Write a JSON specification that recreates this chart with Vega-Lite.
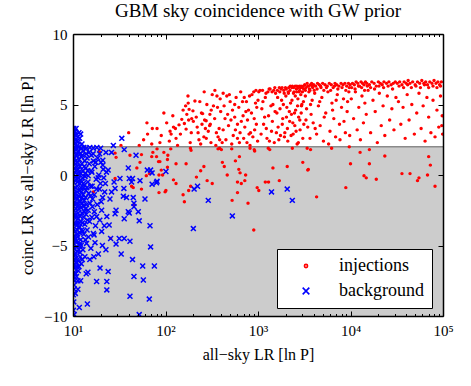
{
"$schema": "https://vega.github.io/schema/vega-lite/v6.json",
"width": 370, "height": 282,
"autosize": {"type": "none"},
"padding": {"left": 73, "top": 34, "right": 28, "bottom": 70},
"background": "white",
"title": {"text": "GBM sky coincidence with GW prior", "font": "Liberation Serif", "fontSize": 19, "fontWeight": "normal", "color": "black", "offset": 6},
"config": {"view": {"stroke": null}, "font": "Liberation Serif",
 "legend": {"labelFont": "Liberation Serif", "labelFontSize": 18, "labelColor": "black", "labelOffset": 24, "symbolOffset": 12, "rowPadding": 7, "symbolStrokeWidth": 1.6, "symbolSize": 10, "symbolFillColor": "#ff0000", "padding": 8, "cornerRadius": 0, "fillColor": "white", "strokeColor": "black"}},
"datasets": {
"band": [{"x1": 10, "x2": 100000, "y1": -10, "y2": 2}],
"inj": [
{"x":33,"y":2.1},{"x":40,"y":3.0},{"x":52,"y":2.1},{"x":58,"y":2.5},
{"x":63,"y":3.7},{"x":64,"y":2.9},{"x":72,"y":3.3},{"x":71,"y":2.2},{"x":81,"y":3.3},{"x":87,"y":2.3},{"x":90,"y":2.8},{"x":96,"y":4.4},
{"x":103,"y":3.7},{"x":112,"y":3.1},{"x":115,"y":2.9},{"x":110,"y":2.4},{"x":120,"y":4.2},{"x":122,"y":3.4},{"x":128,"y":3.3},{"x":130,"y":2.6},{"x":135,"y":2.1},{"x":140,"y":3.55},{"x":145,"y":2.9},{"x":150,"y":3.95},{"x":155,"y":4.6},{"x":160,"y":3.65},{"x":165,"y":4.9},{"x":167,"y":3.25},{"x":170,"y":4.3},{"x":175,"y":5.6},{"x":176,"y":5.1},{"x":178,"y":3.9},{"x":180,"y":4.65},{"x":185,"y":2.3},{"x":190,"y":3.0},{"x":192,"y":4.0},{"x":198,"y":4.55},{"x":200,"y":3.8},
{"x":208,"y":5.25},{"x":215,"y":4.1},{"x":220,"y":3.4},{"x":225,"y":3.0},{"x":230,"y":2.5},{"x":235,"y":5.2},{"x":240,"y":2.2},{"x":245,"y":4.4},{"x":248,"y":3.6},{"x":252,"y":4.35},{"x":260,"y":2.7},{"x":262,"y":5.9},{"x":265,"y":3.9},{"x":270,"y":3.3},{"x":275,"y":3.85},{"x":276,"y":2.6},{"x":280,"y":5.0},{"x":290,"y":3.1},{"x":300,"y":3.5},{"x":302,"y":4.3},{"x":305,"y":3.6},{"x":310,"y":2.3},{"x":312,"y":4.6},{"x":320,"y":5.7},{"x":330,"y":4.9},{"x":340,"y":4.0},{"x":342,"y":6.0},{"x":350,"y":2.1},{"x":355,"y":3.0},{"x":360,"y":5.6},{"x":365,"y":4.8},{"x":370,"y":2.7},{"x":380,"y":3.3},{"x":385,"y":2.5},{"x":390,"y":5.4},{"x":395,"y":4.5},
{"x":420,"y":5.8},{"x":460,"y":5.6},{"x":500,"y":5.2},{"x":530,"y":4.6},{"x":560,"y":4.1},{"x":600,"y":3.6},{"x":640,"y":3.0},{"x":700,"y":2.6},{"x":760,"y":2.3},{"x":820,"y":2.1},{"x":420,"y":3.2},{"x":450,"y":2.5},{"x":470,"y":4.3},{"x":510,"y":3.9},{"x":540,"y":2.8},{"x":580,"y":5.5},{"x":620,"y":4.8},{"x":650,"y":5.9},{"x":690,"y":4.2},{"x":720,"y":3.4},{"x":750,"y":5.2},{"x":790,"y":4.6},{"x":830,"y":3.0},{"x":860,"y":5.7},{"x":880,"y":2.7},{"x":910,"y":4.0},{"x":940,"y":5.1},{"x":960,"y":3.6},{"x":990,"y":2.4},{"x":430,"y":4.9},{"x":480,"y":3.5},{"x":520,"y":2.2},{"x":560,"y":5.0},{"x":600,"y":2.6},{"x":660,"y":3.8},{"x":710,"y":5.5},{"x":770,"y":3.9},{"x":800,"y":2.9},{"x":850,"y":4.4},{"x":900,"y":5.9},{"x":970,"y":4.8},{"x":410,"y":2.3},{"x":440,"y":4.0},{"x":490,"y":5.7},{"x":570,"y":3.2},{"x":630,"y":2.3},{"x":680,"y":5.2},{"x":740,"y":4.5},{"x":810,"y":5.6},{"x":920,"y":3.2},{"x":950,"y":6.0},{"x":1000,"y":5.3},
{"x":1050,"y":6.0},{"x":1100,"y":4.7},{"x":1150,"y":3.6},{"x":1200,"y":5.5},{"x":1250,"y":2.6},{"x":1300,"y":4.2},{"x":1350,"y":6.1},{"x":1400,"y":3.1},{"x":1450,"y":5.0},{"x":1500,"y":2.3},{"x":1550,"y":5.8},{"x":1600,"y":4.4},{"x":1650,"y":3.4},{"x":1700,"y":6.2},{"x":1750,"y":2.8},{"x":1800,"y":5.3},{"x":1850,"y":4.0},{"x":1900,"y":6.0},{"x":1950,"y":3.0},{"x":2000,"y":5.6},{"x":2050,"y":4.8},{"x":2100,"y":2.4},{"x":2150,"y":6.2},{"x":2200,"y":3.8},{"x":2250,"y":5.1},{"x":2300,"y":4.3},{"x":2350,"y":6.3},{"x":2400,"y":2.9},{"x":2450,"y":5.9},{"x":2500,"y":3.5},{"x":2550,"y":4.6},{"x":2600,"y":6.1},{"x":2650,"y":2.2},{"x":2700,"y":5.4},{"x":2750,"y":4.1},{"x":2800,"y":6.3},{"x":2850,"y":3.2},{"x":2900,"y":5.7},{"x":2950,"y":4.9},{"x":3000,"y":6.2},{"x":3050,"y":2.6},{"x":3100,"y":5.2},
{"x":1080,"y":2.9},{"x":1130,"y":5.2},{"x":1180,"y":4.1},{"x":1230,"y":3.3},{"x":1280,"y":5.9},{"x":1330,"y":2.4},{"x":1380,"y":4.9},{"x":1430,"y":3.8},{"x":1480,"y":6.0},{"x":1530,"y":4.5},{"x":1580,"y":3.0},{"x":1630,"y":5.5},{"x":1680,"y":2.5},{"x":1730,"y":4.7},{"x":1780,"y":6.1},{"x":1830,"y":3.6},{"x":1880,"y":5.0},{"x":1930,"y":2.7},{"x":1980,"y":6.2},{"x":2030,"y":4.1},{"x":2080,"y":3.3},{"x":2130,"y":5.8},{"x":2180,"y":4.5},{"x":2230,"y":6.3},{"x":2280,"y":2.8},{"x":2330,"y":5.3},{"x":2380,"y":3.7},{"x":2430,"y":6.2},{"x":2480,"y":4.4},{"x":2530,"y":5.6},{"x":2580,"y":3.1},{"x":2630,"y":6.3},{"x":2680,"y":4.9},{"x":2730,"y":2.3},{"x":2780,"y":5.9},{"x":2830,"y":3.9},{"x":2880,"y":6.2},{"x":2930,"y":4.4},{"x":2980,"y":5.0},{"x":3080,"y":6.3},{"x":3130,"y":3.6},
{"x":1020,"y":5.9},{"x":1120,"y":6.0},{"x":1220,"y":5.8},{"x":1320,"y":6.1},{"x":1420,"y":5.9},{"x":1520,"y":6.2},{"x":1620,"y":6.0},{"x":1720,"y":5.9},{"x":1820,"y":6.2},{"x":1920,"y":5.8},{"x":2020,"y":6.1},{"x":2120,"y":5.9},{"x":2220,"y":6.0},{"x":2320,"y":6.2},{"x":2420,"y":5.8},{"x":2520,"y":6.3},{"x":2620,"y":5.9},{"x":2720,"y":6.2},{"x":2820,"y":6.0},{"x":2920,"y":6.3},{"x":3020,"y":5.9},{"x":3120,"y":6.1},
{"x":3200,"y":6.4},{"x":3300,"y":6.2},{"x":3400,"y":6.5},{"x":3500,"y":6.3},{"x":3600,"y":6.1},{"x":3700,"y":6.4},{"x":3800,"y":6.5},{"x":3900,"y":6.2},{"x":4000,"y":6.4},{"x":4200,"y":6.3},{"x":4400,"y":6.5},{"x":4600,"y":6.4},{"x":4800,"y":6.2},{"x":5000,"y":6.5},{"x":5300,"y":6.4},{"x":5600,"y":6.3},{"x":5900,"y":6.5},{"x":6200,"y":6.4},{"x":6500,"y":6.2},{"x":6800,"y":6.5},{"x":7100,"y":6.4},{"x":7500,"y":6.3},{"x":7900,"y":6.5},{"x":8300,"y":6.4},{"x":8700,"y":6.5},{"x":9100,"y":6.3},{"x":9500,"y":6.5},{"x":9900,"y":6.4},
{"x":3250,"y":5.6},{"x":3350,"y":4.7},{"x":3450,"y":3.4},{"x":3550,"y":5.9},{"x":3650,"y":2.6},{"x":3750,"y":4.3},{"x":3850,"y":5.3},{"x":3950,"y":3.7},{"x":4100,"y":5.8},{"x":4300,"y":2.9},{"x":4500,"y":4.9},{"x":4700,"y":3.5},{"x":4900,"y":5.5},{"x":5100,"y":2.4},{"x":5400,"y":4.4},{"x":5700,"y":5.9},{"x":6000,"y":3.1},{"x":6300,"y":5.1},{"x":6600,"y":4.0},{"x":6900,"y":2.7},{"x":7200,"y":5.7},{"x":7600,"y":3.6},{"x":8000,"y":4.8},{"x":8400,"y":5.4},{"x":8800,"y":3.0},{"x":9200,"y":4.5},{"x":9600,"y":5.9},{"x":3300,"y":3.9},{"x":3700,"y":5.0},{"x":4150,"y":3.3},{"x":4650,"y":5.2},{"x":5200,"y":4.1},{"x":5800,"y":2.2},{"x":6400,"y":4.6},{"x":7000,"y":5.3},{"x":7700,"y":2.5},{"x":8500,"y":3.8},{"x":9300,"y":5.2},{"x":9800,"y":2.8},
{"x":3250,"y":6.0},{"x":3450,"y":6.3},{"x":3650,"y":6.0},{"x":3850,"y":6.3},{"x":4050,"y":6.0},{"x":4350,"y":6.1},{"x":4750,"y":6.3},{"x":5150,"y":6.0},{"x":5500,"y":6.2},{"x":6100,"y":6.0},{"x":6700,"y":6.3},{"x":7300,"y":6.1},{"x":8100,"y":6.2},{"x":8900,"y":6.0},{"x":9700,"y":6.2},
{"x":10500,"y":6.5},{"x":11000,"y":6.4},{"x":11500,"y":6.6},{"x":12000,"y":6.5},{"x":12500,"y":6.3},{"x":13000,"y":6.6},{"x":13500,"y":6.5},{"x":14000,"y":6.4},{"x":14500,"y":6.6},{"x":15000,"y":6.5},{"x":16000,"y":6.4},{"x":17000,"y":6.6},{"x":18000,"y":6.5},{"x":19000,"y":6.3},{"x":20000,"y":6.6},{"x":21000,"y":6.5},{"x":22000,"y":6.4},{"x":23000,"y":6.6},{"x":24500,"y":6.5},{"x":26000,"y":6.6},{"x":27500,"y":6.4},{"x":29000,"y":6.5},{"x":30500,"y":6.6},
{"x":10200,"y":5.4},{"x":10800,"y":4.0},{"x":11300,"y":5.9},{"x":11800,"y":3.2},{"x":12300,"y":4.8},{"x":12800,"y":2.5},{"x":13300,"y":5.6},{"x":13800,"y":3.7},{"x":14300,"y":5.1},{"x":14800,"y":4.3},{"x":15500,"y":6.0},{"x":16500,"y":3.0},{"x":17500,"y":5.3},{"x":18500,"y":4.5},{"x":19500,"y":2.3},{"x":20500,"y":5.8},{"x":21500,"y":3.5},{"x":22500,"y":4.9},{"x":23500,"y":2.8},{"x":25000,"y":5.6},{"x":26500,"y":3.9},{"x":28000,"y":4.7},{"x":29500,"y":3.2},{"x":31000,"y":5.5},
{"x":10300,"y":6.2},{"x":11200,"y":6.1},{"x":12200,"y":6.3},{"x":13200,"y":6.2},{"x":14200,"y":6.0},{"x":15200,"y":6.3},{"x":16500,"y":6.2},{"x":18200,"y":6.1},{"x":20300,"y":6.3},{"x":22800,"y":6.2},{"x":25500,"y":6.3},{"x":28500,"y":6.1},
{"x":32000,"y":6.5},{"x":34000,"y":6.6},{"x":36000,"y":6.4},{"x":38000,"y":6.6},{"x":40000,"y":6.5},{"x":42000,"y":6.7},{"x":44000,"y":6.5},{"x":47000,"y":6.6},{"x":50000,"y":6.4},{"x":53000,"y":6.6},{"x":56000,"y":6.5},{"x":59000,"y":6.7},{"x":62000,"y":6.5},{"x":65000,"y":6.6},{"x":68000,"y":6.4},{"x":72000,"y":6.6},{"x":76000,"y":6.5},{"x":80000,"y":6.7},{"x":84000,"y":6.5},{"x":88000,"y":6.6},{"x":92000,"y":6.4},{"x":96000,"y":6.6},
{"x":33000,"y":5.2},{"x":35000,"y":3.6},{"x":37000,"y":4.8},{"x":39000,"y":2.6},{"x":41000,"y":5.7},{"x":43000,"y":3.9},{"x":46000,"y":5.0},{"x":49000,"y":2.9},{"x":52000,"y":4.4},{"x":55000,"y":5.8},{"x":58000,"y":3.3},{"x":61000,"y":4.9},{"x":64000,"y":2.4},{"x":67000,"y":5.5},{"x":70000,"y":4.1},{"x":74000,"y":3.0},{"x":78000,"y":5.3},{"x":82000,"y":2.7},{"x":86000,"y":4.6},{"x":90000,"y":3.4},{"x":94000,"y":5.6},{"x":98000,"y":4.2},{"x":97000,"y":3.5},{"x":99000,"y":2.9},
{"x":33500,"y":6.3},{"x":37500,"y":6.2},{"x":41500,"y":6.4},{"x":45500,"y":6.2},{"x":51000,"y":6.3},{"x":57000,"y":6.2},{"x":63000,"y":6.4},{"x":70000,"y":6.2},{"x":78000,"y":6.3},{"x":86000,"y":6.2},{"x":94000,"y":6.3},
{"x":19.3,"y":1.65},{"x":28.5,"y":1.55},{"x":29.2,"y":1.25},{"x":41.3,"y":1.4},{"x":55,"y":1.45},{"x":73,"y":1.6},{"x":80,"y":1.3},{"x":96,"y":1.6},{"x":105,"y":1.1},{"x":87,"y":0.95},{"x":53,"y":0.9},{"x":49,"y":0.5},{"x":67,"y":0.1},{"x":105,"y":0.55},{"x":122,"y":-0.35},{"x":130,"y":-0.6},{"x":28.5,"y":-0.25},{"x":44.8,"y":-0.9},{"x":16.6,"y":-1.2},{"x":85,"y":-1.25},{"x":99,"y":-1.2},{"x":25.5,"y":-4.5},{"x":45.6,"y":-2.1},{"x":43,"y":-0.8},{"x":55,"y":-1.0},{"x":155,"y":-1.4},{"x":178,"y":-1.1},{"x":187,"y":-0.8},{"x":216,"y":-0.15},{"x":282,"y":-0.4},{"x":320,"y":-0.6},{"x":62,"y":-0.05},{"x":85,"y":0.0},{"x":93,"y":0.0},{"x":260,"y":0.6},{"x":412,"y":0.9},{"x":432,"y":0.6},{"x":465,"y":0},{"x":570,"y":1.0},{"x":630,"y":1.3},{"x":620,"y":0.4},{"x":640,"y":0.15},{"x":735,"y":0},{"x":720,"y":-0.4},{"x":600,"y":-0.5},{"x":600,"y":-1.25},{"x":525,"y":-1.8},{"x":780,"y":-2.0},{"x":900,"y":-3.9},{"x":980,"y":-0.9},{"x":1020,"y":-1.1},{"x":1200,"y":-0.5},{"x":1300,"y":-0.5},{"x":1450,"y":0.5},{"x":1700,"y":-0.4},{"x":2070,"y":0.6},{"x":3050,"y":0.9},{"x":3500,"y":0.4},{"x":4300,"y":-1.55},{"x":8900,"y":-0.9},{"x":10000,"y":0.8},{"x":12700,"y":1.6},{"x":14000,"y":-0.05},{"x":14800,"y":-0.2},{"x":16000,"y":0.8},{"x":19000,"y":-0.3},{"x":23500,"y":1.35},{"x":36000,"y":0.1},{"x":44000,"y":0.1},{"x":55000,"y":-0.2},{"x":53000,"y":-0.4},{"x":68000,"y":0},{"x":70000,"y":1.3},{"x":73000,"y":0.7},{"x":82000,"y":-0.8},{"x":920,"y":1.7},{"x":1340,"y":1.8},{"x":2350,"y":1.9},{"x":3400,"y":1.9},{"x":3700,"y":1.8},{"x":6250,"y":1.9},{"x":9700,"y":2.0},{"x":16000,"y":1.8},
{"x":71,"y":1.3},{"x":84,"y":0.95},{"x":106,"y":1.4},{"x":130,"y":0.8},{"x":167,"y":0.8},{"x":90,"y":0.35},{"x":81,"y":1.85},{"x":114,"y":1.85},{"x":186,"y":1.9},{"x":189,"y":1.75},{"x":370,"y":1.85},{"x":402,"y":1.8},{"x":385,"y":1.9},{"x":520,"y":1.85},{"x":820,"y":1.9},{"x":910,"y":1.8},{"x":1290,"y":1.9},{"x":101,"y":-1.1},{"x":160,"y":-1.9},{"x":240,"y":0.3},{"x":660,"y":-0.6},{"x":3450,"y":0.35}
],
"bg": [
{"x":10.2,"y":3.3},{"x":10.5,"y":3.1},{"x":10.8,"y":3.3},{"x":11.0,"y":2.9},{"x":12.1,"y":2.9},{"x":10.3,"y":2.7},{"x":10.7,"y":2.5},{"x":11.4,"y":2.35},{"x":11.8,"y":2.6},{"x":10.1,"y":2.4},{"x":10.4,"y":2.2},{"x":11.2,"y":2.1},{"x":12.5,"y":2.2},{"x":11.6,"y":3.0},{"x":33.7,"y":2.6},{"x":27.3,"y":2.1},
{"x":10.2,"y":1.95},{"x":10.9,"y":1.9},{"x":11.5,"y":1.95},{"x":12.3,"y":1.9},{"x":13.1,"y":1.95},{"x":14.0,"y":1.9},{"x":15.2,"y":1.95},{"x":16.6,"y":1.9},{"x":18.1,"y":1.95},{"x":19.9,"y":1.9},
{"x":10.1,"y":1.6},{"x":10.4,"y":1.2},{"x":10.7,"y":0.8},{"x":11.0,"y":1.5},{"x":11.3,"y":0.4},{"x":11.7,"y":1.1},{"x":12.1,"y":0.1},{"x":12.6,"y":1.4},{"x":13.2,"y":0.6},
{"x":10.2,"y":0.0},{"x":10.5,"y":-0.4},{"x":10.8,"y":0.3},{"x":11.1,"y":-0.8},{"x":11.5,"y":-0.2},{"x":11.9,"y":-1.1},{"x":12.4,"y":-0.5},{"x":12.9,"y":-1.4},{"x":13.5,"y":-0.1},
{"x":10.1,"y":-1.0},{"x":10.3,"y":-1.6},{"x":10.6,"y":-1.3},{"x":10.9,"y":-2.0},{"x":11.2,"y":-1.7},{"x":11.6,"y":-2.4},{"x":12.0,"y":-1.9},{"x":12.5,"y":-2.7},{"x":13.0,"y":-2.2},
{"x":10.2,"y":-2.5},{"x":10.4,"y":-3.0},{"x":10.7,"y":-2.8},{"x":11.0,"y":-3.4},{"x":11.4,"y":-3.1},{"x":11.8,"y":-3.7},{"x":12.2,"y":-3.3},{"x":12.7,"y":-4.0},{"x":13.4,"y":-3.5},
{"x":10.1,"y":-3.8},{"x":10.3,"y":-4.3},{"x":10.6,"y":-4.0},{"x":10.9,"y":-4.7},{"x":11.3,"y":-4.4},{"x":11.7,"y":-5.0},{"x":12.1,"y":-4.6},{"x":12.8,"y":-5.3},
{"x":10.2,"y":-5.2},{"x":10.5,"y":-5.6},{"x":10.8,"y":-5.9},{"x":11.1,"y":-5.4},{"x":11.5,"y":-6.1},{"x":12.0,"y":-5.8},{"x":10.1,"y":-6.4},{"x":10.4,"y":-6.6},{"x":10.7,"y":-7.0},{"x":11.0,"y":-6.5},{"x":10.3,"y":-7.8},{"x":10.6,"y":-8.4},{"x":10.2,"y":-9.0},{"x":10.1,"y":-9.6},
{"x":10.3,"y":0.5},{"x":10.6,"y":1.8},{"x":10.9,"y":1.4},{"x":11.2,"y":0.9},{"x":11.5,"y":1.7},{"x":11.9,"y":0.6},{"x":12.3,"y":1.3},{"x":12.8,"y":0.3},{"x":13.4,"y":1.0},{"x":10.5,"y":0.2},{"x":11.0,"y":-0.3},{"x":11.4,"y":0.0},{"x":11.8,"y":-0.6},{"x":12.2,"y":-0.9},{"x":12.7,"y":-0.2},{"x":13.3,"y":-0.7},{"x":13.8,"y":0.5},{"x":14.2,"y":1.2},
{"x":10.2,"y":-1.3},{"x":10.6,"y":-0.9},{"x":11.1,"y":-1.2},{"x":11.6,"y":-1.5},{"x":12.3,"y":-1.2},{"x":13.0,"y":-0.9},{"x":13.7,"y":-1.6},{"x":14.5,"y":-0.5},
{"x":10.4,"y":-2.1},{"x":10.8,"y":-2.4},{"x":11.3,"y":-2.2},{"x":11.9,"y":-2.9},{"x":12.6,"y":-2.0},{"x":13.3,"y":-2.6},{"x":14.0,"y":-2.1},
{"x":10.5,"y":-3.5},{"x":11.1,"y":-3.9},{"x":11.6,"y":-3.4},{"x":12.4,"y":-3.9},{"x":13.1,"y":-4.2},{"x":14.3,"y":-3.2},
{"x":10.3,"y":-4.9},{"x":11.0,"y":-5.1},{"x":11.9,"y":-5.5},{"x":13.6,"y":-4.6},{"x":10.9,"y":-6.2},{"x":11.4,"y":-6.8},{"x":12.3,"y":-6.3},
{"x":10.5,"y":-7.5},{"x":11.3,"y":-7.5},{"x":12.1,"y":-7.5},{"x":11.3,"y":-8.1},{"x":11.7,"y":-9.4},{"x":14.3,"y":-9.15},{"x":10.3,"y":-9.9},{"x":10.3,"y":-8.1},{"x":10.3,"y":-6.9},{"x":10.8,"y":-6.25},{"x":10.5,"y":-5.7},{"x":10.5,"y":-4.55},{"x":11.9,"y":-4.85},{"x":14.0,"y":-4.85},
{"x":14.6,"y":-0.05},{"x":15.5,"y":-0.8},{"x":16.6,"y":1.0},{"x":21,"y":1.05},{"x":21,"y":0.7},{"x":24,"y":0.35},{"x":16.3,"y":-1.7},{"x":16.2,"y":-2.25},{"x":20.4,"y":-2.5},{"x":18,"y":-2.95},{"x":23.2,"y":-2.95},{"x":19.3,"y":-1.0},{"x":20.9,"y":-1.6},{"x":25.1,"y":-1.7},{"x":26.1,"y":-1.2},{"x":27.8,"y":-0.5},{"x":22.7,"y":1.6},{"x":26.1,"y":1.6},{"x":24.6,"y":-3.55},{"x":20.4,"y":-4.0},{"x":16.6,"y":-4.15},{"x":17.3,"y":-4.8},{"x":16.9,"y":-4.25},{"x":25.5,"y":-4.5},{"x":22.7,"y":-5.3},{"x":19.6,"y":-6.6},{"x":24,"y":-6.85},{"x":18,"y":-7.55},{"x":23.2,"y":-7.55},{"x":23.2,"y":-8.15},
{"x":15.0,"y":0.8},{"x":15.8,"y":1.4},{"x":16.0,"y":0.2},{"x":17.2,"y":0.6},{"x":17.8,"y":-0.3},{"x":18.5,"y":1.2},{"x":19.0,"y":0.0},{"x":19.8,"y":-0.6},{"x":20.0,"y":0.9},{"x":21.5,"y":-0.2},{"x":22.0,"y":-1.2},{"x":23.0,"y":0.2},{"x":14.8,"y":-1.3},{"x":15.3,"y":-2.0},{"x":17.0,"y":-1.4},{"x":18.3,"y":-2.1},{"x":19.5,"y":-3.2},{"x":21.8,"y":-3.6},{"x":15.1,"y":-3.3},{"x":16.0,"y":-3.0},{"x":17.5,"y":-3.6},{"x":14.7,"y":-4.4},{"x":15.6,"y":-5.2},{"x":18.8,"y":-5.6},{"x":15.2,"y":-6.0},{"x":16.8,"y":-5.8},{"x":14.5,"y":-6.9},{"x":20.8,"y":-5.0},{"x":13.9,"y":-2.8},{"x":14.2,"y":-3.9},{"x":13.8,"y":-1.1},
{"x":10.05,"y":0.9},{"x":10.15,"y":-0.5},{"x":10.25,"y":-2.0},{"x":10.35,"y":-3.4},{"x":10.45,"y":-4.7},{"x":10.55,"y":-6.0},{"x":10.65,"y":1.0},{"x":10.75,"y":-0.1},{"x":10.85,"y":-1.6},{"x":10.95,"y":-3.0},{"x":11.05,"y":-4.2},{"x":11.15,"y":0.6},{"x":11.25,"y":-0.5},{"x":11.35,"y":-2.7},{"x":11.45,"y":-3.7},{"x":11.55,"y":-5.3},{"x":11.65,"y":0.2},{"x":11.75,"y":-1.9},{"x":11.85,"y":-4.1},{"x":11.95,"y":1.5},{"x":12.05,"y":-0.4},{"x":12.15,"y":-2.3},{"x":12.25,"y":-5.0},{"x":12.45,"y":0.8},{"x":12.55,"y":-1.6},{"x":12.65,"y":-3.4},{"x":12.85,"y":1.7},{"x":12.95,"y":-0.6},{"x":13.05,"y":-3.0},{"x":13.25,"y":-1.8},{"x":13.45,"y":-5.8},{"x":13.55,"y":0.1},{"x":13.65,"y":-2.4},{"x":13.85,"y":1.5},{"x":14.1,"y":-0.9},{"x":14.4,"y":0.3},{"x":14.6,"y":-2.5},{"x":14.9,"y":1.6},{"x":15.4,"y":-1.5},{"x":15.7,"y":0.3},{"x":16.1,"y":-0.8},{"x":16.5,"y":1.5},{"x":17.0,"y":-2.6},{"x":17.6,"y":0.9},{"x":18.0,"y":-1.0},{"x":18.7,"y":-0.2},{"x":19.4,"y":1.5},{"x":20.2,"y":-1.9},{"x":21.2,"y":0.4},{"x":22.4,"y":-0.6},{"x":10.1,"y":-2.9},{"x":10.2,"y":-4.5},{"x":10.1,"y":-5.5},{"x":10.2,"y":-7.2},{"x":10.1,"y":-8.5},{"x":10.4,"y":-7.0},{"x":10.9,"y":-7.2},{"x":11.6,"y":-6.5},{"x":12.6,"y":-6.0},{"x":13.9,"y":-7.0},{"x":10.3,"y":3.0},{"x":10.6,"y":2.8},{"x":10.9,"y":2.4},
{"x":35.8,"y":1.8},{"x":48,"y":1.4},{"x":39.6,"y":0.5},{"x":40.6,"y":-0.25},{"x":32.2,"y":-0.25},{"x":44,"y":-0.25},{"x":43,"y":-0.5},{"x":53,"y":-0.4},{"x":63.6,"y":0.35},{"x":69,"y":0.35},{"x":101,"y":0.25},{"x":81,"y":-0.45},{"x":35.5,"y":-0.95},{"x":28.5,"y":-0.95},{"x":35,"y":-1.5},{"x":37.9,"y":-1.6},{"x":44.8,"y":-1.6},{"x":45.6,"y":-2.25},{"x":39.6,"y":-2.6},{"x":50.8,"y":-2.6},{"x":60,"y":-1.7},{"x":29.2,"y":-2.5},{"x":28.5,"y":-2.75},{"x":35.8,"y":-3.1},{"x":52,"y":-3.25},{"x":40.6,"y":-2.7},{"x":45.6,"y":-2.0},{"x":33.2,"y":-5.6},{"x":29.2,"y":-4.9},{"x":31.6,"y":-4.5},{"x":35.8,"y":-4.5},{"x":41.3,"y":-4.7},{"x":44,"y":-6.0},{"x":45.6,"y":-7.2},{"x":56.7,"y":-6.45},{"x":75.8,"y":-6.45},{"x":57.6,"y":-7.45},{"x":66.8,"y":-8.8},{"x":41.3,"y":-8.6},{"x":52,"y":-9.9},{"x":69,"y":-5.1},{"x":68,"y":-3.6},{"x":71.6,"y":0.15},{"x":80,"y":-0.55},{"x":71.6,"y":-0.65},
{"x":222,"y":-0.8},{"x":204,"y":-1.0},{"x":290,"y":-1.8},{"x":528,"y":-2.9},{"x":200,"y":-3.8},{"x":1400,"y":-1.2},{"x":2070,"y":-1.0},{"x":2350,"y":-1.8}
]
},
"layer": [
{"data": {"name": "band"}, "mark": {"type": "rect", "color": "#cccccc"},
 "encoding": {
  "x": {"field": "x1", "type": "quantitative", "scale": {"type": "log", "domain": [10, 100000], "nice": false},
   "axis": {"orient": "bottom", "title": "all−sky LR [ln P]", "titleFont": "Liberation Serif", "titleFontSize": 16, "titleFontWeight": "normal", "titleColor": "black", "titlePadding": 6,
    "values": [10,20,30,40,50,60,70,80,90,100,200,300,400,500,600,700,800,900,1000,2000,3000,4000,5000,6000,7000,8000,9000,10000,20000,30000,40000,50000,60000,70000,80000,90000,100000],
    "labelExpr": "datum.value == 10 ? '10¹' : datum.value == 100 ? '10²' : datum.value == 1000 ? '10³' : datum.value == 10000 ? '10⁴' : datum.value == 100000 ? '10⁵' : ''",
    "labelFont": "Liberation Serif", "labelFontSize": 15, "labelColor": "black", "labelPadding": 12, "labelOverlap": false, "labelFlush": false, "labelBound": false,
    "tickSize": {"condition": {"test": "indexof([10,100,1000,10000,100000], datum.value) >= 0", "value": -5}, "value": -2.5},
    "tickColor": "black", "tickWidth": 1, "domain": true, "domainColor": "black", "domainWidth": 1.5, "grid": false, "zindex": 1}},
  "x2": {"field": "x2"},
  "y": {"field": "y1", "type": "quantitative", "scale": {"domain": [-10, 10], "nice": false},
   "axis": {"orient": "left", "title": "coinc LR vs all−sky LR [ln P]", "titleFont": "Liberation Serif", "titleFontSize": 16.5, "titleFontWeight": "normal", "titleColor": "black", "titlePadding": 8,
    "values": [-10, -5, 0, 5, 10], "labelExpr": "datum.value < 0 ? '−' + abs(datum.value) : '' + datum.value",
    "labelFont": "Liberation Serif", "labelFontSize": 15, "labelColor": "black", "labelPadding": 11, "labelOverlap": false, "labelFlush": false, "labelBound": false,
    "tickSize": -5, "tickColor": "black", "tickWidth": 1, "domain": true, "domainColor": "black", "domainWidth": 1.5, "grid": false, "zindex": 1}},
  "y2": {"field": "y2"}
 }},
{"data": {"name": "band"}, "mark": {"type": "rule", "color": "#8a8a8a", "strokeWidth": 1.5},
 "encoding": {
  "x": {"field": "x1", "type": "quantitative",
   "axis": {"orient": "top", "title": null, "labels": false,
    "values": [10,20,30,40,50,60,70,80,90,100,200,300,400,500,600,700,800,900,1000,2000,3000,4000,5000,6000,7000,8000,9000,10000,20000,30000,40000,50000,60000,70000,80000,90000,100000],
    "tickSize": {"condition": {"test": "indexof([10,100,1000,10000,100000], datum.value) >= 0", "value": -5}, "value": -2.5},
    "tickColor": "black", "tickWidth": 1, "domain": true, "domainColor": "black", "domainWidth": 1.5, "grid": false, "zindex": 1}},
  "x2": {"field": "x2"},
  "y": {"field": "y2", "type": "quantitative",
   "axis": {"orient": "right", "title": null, "labels": false, "values": [-10, -5, 0, 5, 10],
    "tickSize": -5, "tickColor": "black", "tickWidth": 1, "domain": true, "domainColor": "black", "domainWidth": 1.5, "grid": false, "zindex": 1}}
 }},
{"data": {"name": "inj"}, "mark": {"type": "point", "filled": false, "strokeWidth": 1.6, "size": 3, "opacity": 1, "clip": true},
 "encoding": {
  "x": {"field": "x", "type": "quantitative", "axis": null},
  "y": {"field": "y", "type": "quantitative", "axis": null},
  "color": {"datum": "injections", "type": "nominal", "scale": {"domain": ["injections", "background"], "range": ["#ff0000", "#0000ff"]},
   "legend": {"title": null, "orient": "none", "legendX": 204, "legendY": 215}},
  "shape": {"datum": "injections", "type": "nominal", "scale": {"domain": ["injections", "background"], "range": ["circle", "M-2.1,-2.1L2.1,2.1M-2.1,2.1L2.1,-2.1"]},
   "legend": {"title": null, "orient": "none", "legendX": 204, "legendY": 215}}
 }},
{"data": {"name": "bg"}, "mark": {"type": "point", "filled": false, "strokeWidth": 1.5, "size": 5.5, "opacity": 1, "clip": true},
 "encoding": {
  "x": {"field": "x", "type": "quantitative", "axis": null},
  "y": {"field": "y", "type": "quantitative", "axis": null},
  "color": {"datum": "background", "type": "nominal"},
  "shape": {"datum": "background", "type": "nominal"}
 }}
]
}
